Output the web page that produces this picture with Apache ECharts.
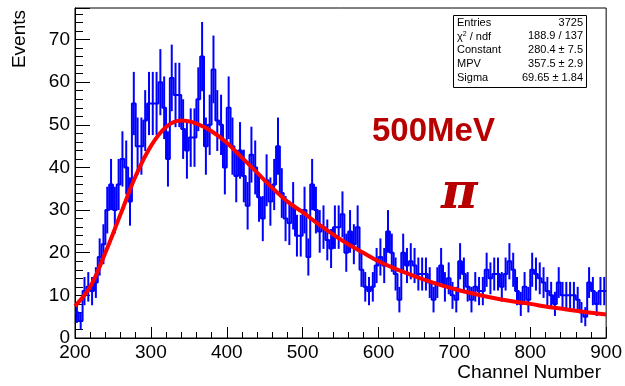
<!DOCTYPE html>
<html>
<head>
<meta charset="utf-8">
<script src="https://cdn.jsdelivr.net/npm/echarts@6/dist/echarts.min.js"></script>
<style>
html,body{margin:0;padding:0;background:#fff;}
#chart{width:625px;height:386px;}
</style>
</head>
<body>
<div id="chart"></div>
<script>
// Histogram: 140 bins of width 5 from channel 200 to 900
const binStart = 200;
const binWidth = 5;
const counts = [
  6, 4, 11, 12, 11, 13, 19, 22, 30, 36,
  30, 36, 42, 40, 32, 55, 45, 45, 51, 55,
  55, 55, 60, 54, 42, 61, 57, 57, 49, 44,
  47, 47, 56, 66, 45, 50, 63, 51, 50, 40,
  54, 45, 38, 44, 38, 31, 43, 40, 33, 28,
  37, 32, 36, 45, 34, 28, 27, 31, 24, 24,
  30, 19, 36, 30, 25, 26, 23, 21, 26, 26,
  29, 20, 25, 22, 26, 16, 12, 11, 12, 17,
  19, 17, 25, 20, 15, 9, 20, 17, 18, 17,
  15, 15, 15, 13, 9, 13, 17, 12, 14, 10,
  9, 18, 15, 12, 9, 12, 11, 11, 16, 14,
  15, 15, 12, 15, 18, 16, 11, 8, 12, 9,
  16, 15, 14, 13, 11, 10, 8, 13, 10, 10,
  10, 10, 9, 6, 5, 13, 11, 8, 11, 11
];
// Landau fit curve
const fitX = [200,220,240,260,280,300,320,340,360,380,400,420,440,460,480,500,520,540,560,580,600,620,640,660,680,700,720,740,760,780,800,820,840,860,880,900];
const fitY = [7.5,12,20,29,38,45,49.5,51,50.3,48.5,45.8,42.3,38.8,35.2,32,29.5,26.8,24.3,22,20,18,16.4,15,13.7,12.5,11.5,10.6,9.8,9.1,8.5,8,7.4,6.9,6.4,5.9,5.5];
// Stats box
const statLabels = ['Entries', 'χ{sup|2} / ndf', 'Constant', 'MPV', 'Sigma'];
const statValues = ['3725', '188.9 / 137', '280.4 ± 7.5', '357.5 ± 2.9', '69.65 ± 1.84'];
const xTicks = [200, 300, 400, 500, 600, 700, 800, 900];
const yTicks = [0, 10, 20, 30, 40, 50, 60, 70];

const stepData = counts.map((v, i) => [binStart + i * binWidth, v]);
stepData.push([binStart + counts.length * binWidth, counts[counts.length - 1]]);
const errData = counts.map((v, i) => [binStart + (i + 0.5) * binWidth, v]);
const fitData = fitX.map((x, i) => [x, fitY[i]]);

const chart = echarts.init(document.getElementById('chart'), null, {renderer: 'canvas'});
const font = 'Liberation Sans, Arial, Helvetica, sans-serif';

const graphics = [];
// stats box
graphics.push({type: 'rect', shape: {x: 453.5, y: 15.5, width: 133, height: 72}, style: {fill: '#fff', stroke: '#000', lineWidth: 1}, z: 100});
statLabels.forEach((t, i) => {
  graphics.push({type: 'text', left: 457, top: 17 + i * 13.8, z: 101,
    style: {text: t, font: '11px ' + font, fill: '#000',
      rich: {sup: {fontSize: 7, verticalAlign: 'top', padding: [0, 0, 5, 0], fontFamily: font}}}});
  graphics.push({type: 'text', right: 625 - 583, top: 17 + i * 13.8, z: 101,
    style: {text: statValues[i], font: '11px ' + font, fill: '#000', align: 'right'}});
});
// axis titles
graphics.push({type: 'text', x: 10, y: 10, rotation: Math.PI / 2,
  style: {text: 'Events', font: '19px ' + font, fill: '#000', align: 'right', verticalAlign: 'top'}, z: 50});
graphics.push({type: 'text', right: 24, top: 363, style: {text: 'Channel Number', font: '19px ' + font, fill: '#000'}});
// annotations
graphics.push({type: 'text', left: 372, top: 115, style: {text: '500MeV', font: 'bold 33px ' + font, fill: '#b80000'}, z: 60});
graphics.push({type: 'text', left: 441, top: 170, style: {text: 'π', font: 'italic bold 50px DejaVu Serif, serif', fill: '#b80000'}, z: 60});

chart.setOption({
  animation: false,
  backgroundColor: '#fff',
  grid: {left: 75, right: 18, top: 8, bottom: 48, show: true, borderColor: '#000', borderWidth: 1, backgroundColor: 'transparent'},
  xAxis: {
    type: 'value', min: 200, max: 900, interval: 100,
    axisLine: {lineStyle: {color: '#000', width: 1}},
    axisTick: {inside: true, length: 11, lineStyle: {color: '#000'}},
    minorTick: {show: true, splitNumber: 5, length: 6, lineStyle: {color: '#000'}},
    splitLine: {show: false},
    axisLabel: {color: '#000', fontSize: 19, fontFamily: font, margin: 5,
      customValues: xTicks, formatter: v => String(v)}
  },
  yAxis: {
    type: 'value', min: 0, max: 77.4, interval: 10,
    axisLine: {lineStyle: {color: '#000', width: 1}},
    axisTick: {inside: true, length: 15, lineStyle: {color: '#000'}},
    minorTick: {show: true, splitNumber: 5, length: 8, lineStyle: {color: '#000'}},
    splitLine: {show: false},
    axisLabel: {color: '#000', fontSize: 19, fontFamily: font, margin: 5,
      formatter: v => (yTicks.indexOf(v) >= 0 ? String(v) : '')}
  },
  graphic: graphics,
  series: [
    {
      type: 'line', step: 'end', data: stepData, symbol: 'none',
      lineStyle: {color: '#0000ff', width: 2}, clip: true, z: 2
    },
    {
      type: 'custom', data: errData, clip: true, z: 3,
      renderItem: function (params, api) {
        const x = api.value(0), y = api.value(1), e = Math.sqrt(y);
        const p1 = api.coord([x, y - e]);
        const p2 = api.coord([x, y + e]);
        return {type: 'line', shape: {x1: p1[0], y1: p1[1], x2: p2[0], y2: p2[1]},
          style: {stroke: '#0000ff', lineWidth: 2}};
      }
    },
    {
      type: 'line', data: fitData, smooth: 0.4, symbol: 'none',
      lineStyle: {color: '#ff0000', width: 4}, clip: true, z: 4
    }
  ]
});
</script>
</body>
</html>
